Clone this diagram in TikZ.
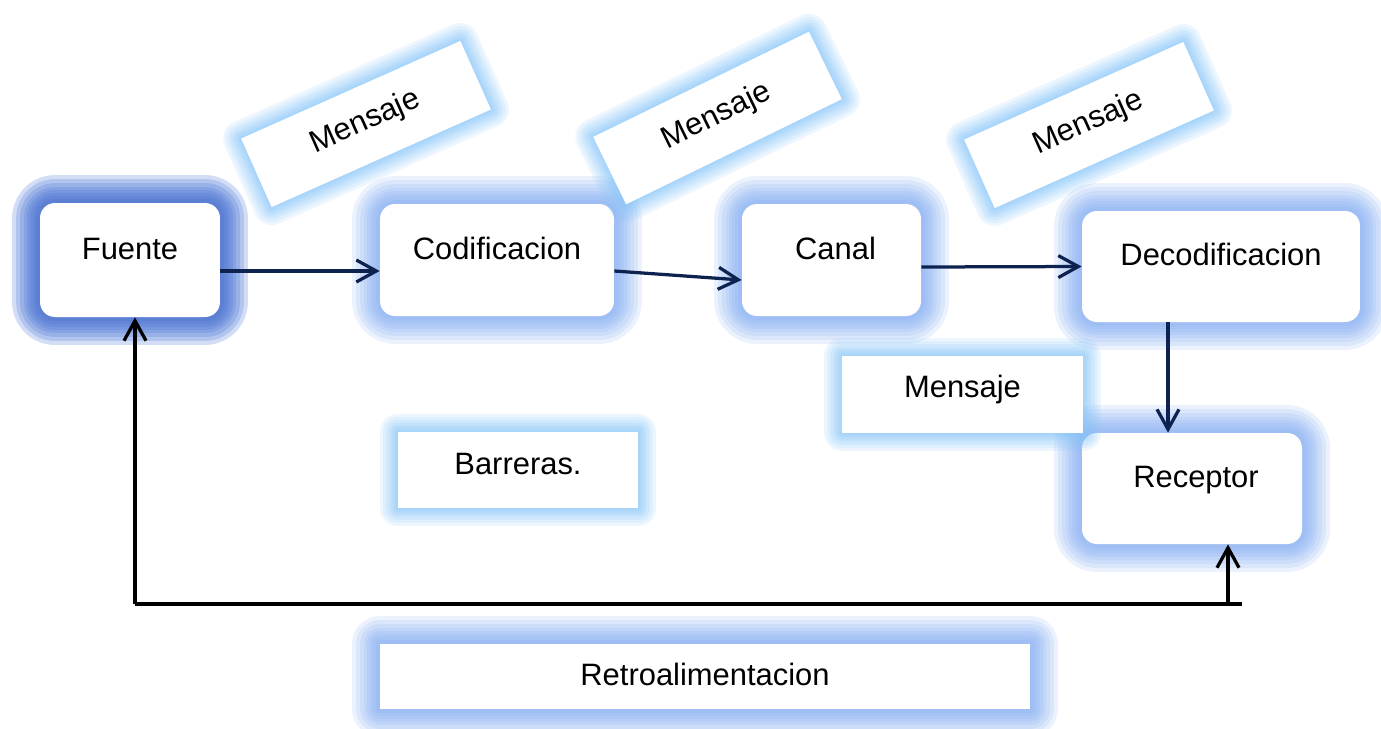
\documentclass[tikz,border=0pt]{standalone}
\usepackage{fontspec}
\setmainfont{Liberation Sans}
\usetikzlibrary{arrows.meta}
\definecolor{mainglow}{RGB}{122,166,240}
\definecolor{fuenteglow}{RGB}{70,108,205}
\definecolor{skyglow}{RGB}{133,196,248}
\definecolor{flecha}{RGB}{14,34,80}
\tikzset{
  gl/.style 2 args={preaction={draw=#1,line width=#2,line join=round,opacity=0.15}},
  glow/.style={gl={#1}{1.12cm},gl={#1}{0.96cm},gl={#1}{0.8cm},gl={#1}{0.64cm},
    gl={#1}{0.52cm},gl={#1}{0.4cm},gl={#1}{0.28cm},gl={#1}{0.16cm}},
  softglow/.style={gl={#1}{0.72cm},gl={#1}{0.6cm},gl={#1}{0.48cm},gl={#1}{0.36cm},
    gl={#1}{0.28cm},gl={#1}{0.2cm},gl={#1}{0.12cm},gl={#1}{0.06cm}},
  mainbox/.style={rectangle,rounded corners=0.3cm,fill=white,inner sep=0pt,
    text height=0.44cm,text depth=0.48cm,glow=mainglow},
  msgbox/.style={rectangle,fill=white,inner sep=0pt,minimum width=4.8cm,
    minimum height=1.5cm,text height=0.44cm,text depth=0.2cm,softglow=skyglow},
  flow/.style={draw=flecha,line width=0.065cm,-{Straight Barb[length=0.4cm,width=0.44cm]}},
  fback/.style={draw=black,line width=0.065cm}
}
\begin{document}
\begin{tikzpicture}[x=0.02cm,y=-0.02cm,font=\fontsize{17.6pt}{21pt}\selectfont]
        \useasboundingbox (0,0) rectangle (1381,728);
        % cajas principales
        \draw (130,260) node[mainbox,glow=fuenteglow,minimum width=3.6cm,minimum height=2.28cm](fuente){Fuente};
        \draw (497,260) node[mainbox,minimum width=4.68cm,minimum height=2.24cm](codif){Codificacion};
        \draw (831.5,260) node[mainbox,minimum width=3.58cm,minimum height=2.24cm](canal){\hspace{0.16cm}Canal};
        \draw (1221,266.5) node[mainbox,minimum width=5.56cm,minimum height=2.22cm](decod){Decodificacion};
        \draw (1192,488.5) node[mainbox,minimum width=4.4cm,minimum height=2.22cm](receptor){\hspace{0.16cm}Receptor};
        \draw (705,676) node[mainbox,rounded corners=0pt,minimum width=13cm,minimum height=1.3cm,text depth=0.08cm](retro){Retroalimentacion};
        % mensajes
        \draw (366,124) node[msgbox,rotate=24](msg1){Mensaje};
        \draw (717.5,118) node[msgbox,rotate=26](msg2){Mensaje};
        \draw (1089,125) node[msgbox,rotate=24](msg3){Mensaje};
        \draw (962.5,394.5) node[msgbox,minimum width=4.82cm,minimum height=1.54cm,text depth=0.32cm](msg4){Mensaje};
        \draw (518,470) node[msgbox,minimum width=4.82cm,minimum height=1.52cm,text depth=0.28cm](barreras){Barreras.};
        % flechas
        \draw[flow] ([yshift=-0.22cm]fuente.east) -- ([yshift=-0.22cm]codif.west);
        \draw[flow] ([yshift=-0.22cm]codif.east) -- ([yshift=-0.4cm]canal.west);
        \draw[flow] ([yshift=-0.14cm]canal.east) -- (decod.west);
        \draw[flow] ([xshift=-1.06cm]decod.south) -- ([xshift=-1.06cm]decod.south |- receptor.north);
        % retroalimentacion
        \coordinate (fbend) at (1242,604);
        \coordinate (fbcorner) at (135,604);
        \coordinate (fbtap) at (1228,604);
        \draw[fback] (fbend) -- (fbcorner);
        \draw[fback,-{Straight Barb[length=0.4cm,width=0.44cm]}]
          (fbcorner) -- (fbcorner |- fuente.south);
        \draw[fback,-{Straight Barb[length=0.4cm,width=0.44cm]}]
          (fbtap) -- (fbtap |- receptor.south);
      \end{tikzpicture}
\end{document}
